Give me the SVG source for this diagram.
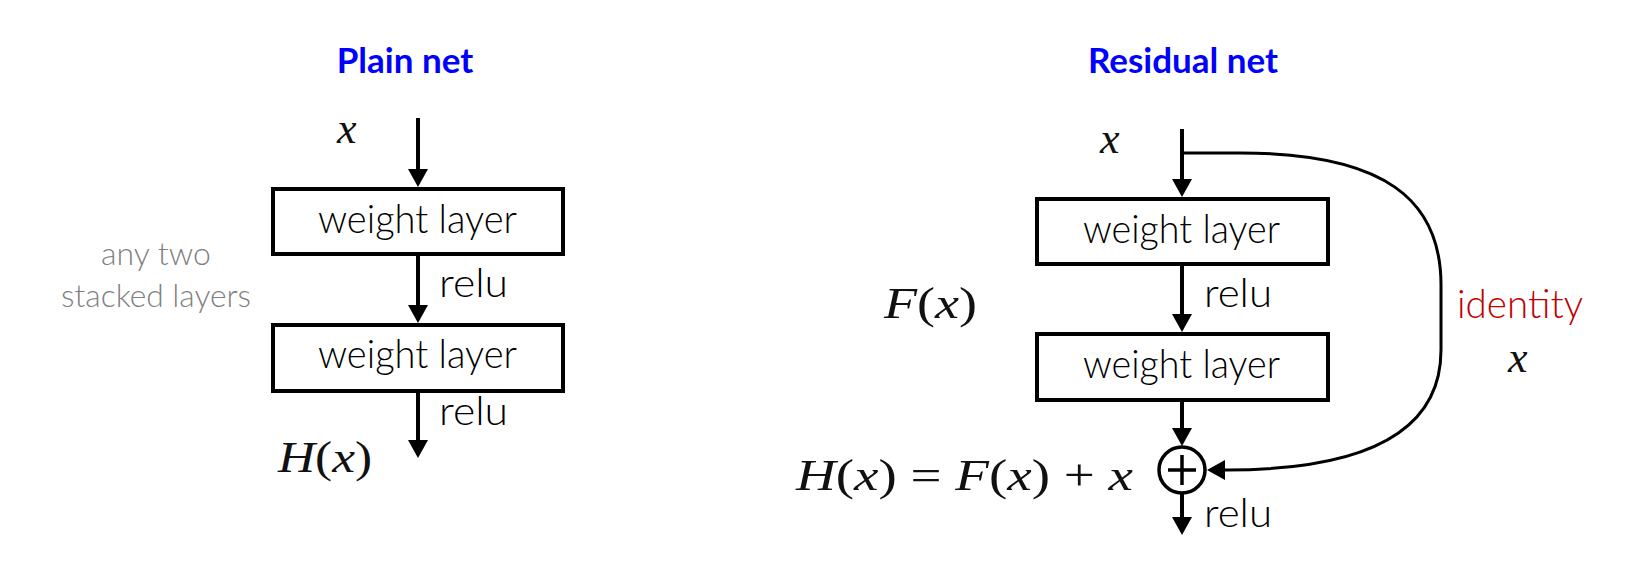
<svg xmlns="http://www.w3.org/2000/svg" width="1628" height="580" viewBox="0 0 1628 580">
<style>
.title{font-family:Lato,"Liberation Sans",sans-serif;font-weight:bold;font-size:35px;fill:#0000FF;text-anchor:middle}
.lbl{font-family:Lato,"Liberation Sans",sans-serif;font-weight:300;font-size:39px;fill:#000}
.gray{font-family:Lato,"Liberation Sans",sans-serif;font-weight:300;font-size:32px;fill:#7f7f7f;text-anchor:middle}
.red{font-family:Lato,"Liberation Sans",sans-serif;font-weight:300;font-size:39px;fill:#C00000}
.math{font-family:"Liberation Serif","Times New Roman",serif;font-size:44px;fill:#111}
.it{font-style:italic}
.box{fill:#fff;stroke:#000;stroke-width:4}
.arr{stroke:#000;stroke-width:4;fill:none;marker-end:url(#ah)}
.skip{stroke:#000;stroke-width:3;fill:none;marker-end:url(#ah)}
</style>
<defs>
<marker id="ah" viewBox="0 0 18 20" refX="12" refY="10" markerWidth="18" markerHeight="20" markerUnits="userSpaceOnUse" orient="auto">
<path d="M0,0 L18,10 L0,20 Z" fill="#000"/>
</marker>
</defs>
<rect width="1628" height="580" fill="#fff"/>

<text class="title" x="405" y="73">Plain net</text>
<text class="title" x="1183" y="73">Residual net</text>

<g id="connectors">
<line class="arr" x1="418" y1="118" x2="418" y2="181"/>
<line class="arr" x1="418" y1="256" x2="418" y2="317"/>
<line class="arr" x1="418" y1="393" x2="418" y2="452"/>
<line class="arr" x1="1182" y1="129" x2="1182" y2="191"/>
<line class="arr" x1="1182" y1="266" x2="1182" y2="326"/>
<line class="arr" x1="1182" y1="401" x2="1182" y2="440"/>
<line class="arr" x1="1182" y1="493" x2="1182" y2="529"/>
<path class="skip" d="M1182,153 H1240 C1385,153 1441,200 1441,285 V350 C1441,430 1370,470 1226,470 L1213,470"/>
</g>

<g id="plain-x"><text class="math it" x="337" y="143">x</text></g>
<g id="plain-w1">
<rect class="box" x="273" y="189" width="290" height="65"/>
<text class="lbl" x="318" y="233" textLength="199" lengthAdjust="spacingAndGlyphs">weight layer</text>
</g>
<g id="plain-relu1"><text class="lbl" x="439" y="297" textLength="69" lengthAdjust="spacingAndGlyphs">relu</text></g>
<g id="plain-w2">
<rect class="box" x="273" y="325" width="290" height="66"/>
<text class="lbl" x="318" y="368" textLength="199" lengthAdjust="spacingAndGlyphs">weight layer</text>
</g>
<g id="plain-relu2"><text class="lbl" x="439" y="425" textLength="69" lengthAdjust="spacingAndGlyphs">relu</text></g>
<g id="plain-H"><text class="math" x="278" y="472" textLength="94" lengthAdjust="spacingAndGlyphs"><tspan class="it">H</tspan>(<tspan class="it">x</tspan>)</text></g>
<g id="note">
<text class="gray" x="156" y="265">any two</text>
<text class="gray" x="156" y="307" textLength="190" lengthAdjust="spacingAndGlyphs">stacked layers</text>
</g>

<g id="res-x"><text class="math it" x="1100" y="153">x</text></g>
<g id="res-w1">
<rect class="box" x="1037" y="199" width="291" height="65"/>
<text class="lbl" x="1083" y="243" textLength="197" lengthAdjust="spacingAndGlyphs">weight layer</text>
</g>
<g id="res-relu1"><text class="lbl" x="1204" y="307" textLength="68" lengthAdjust="spacingAndGlyphs">relu</text></g>
<g id="res-F"><text class="math" x="884" y="318" textLength="93" lengthAdjust="spacingAndGlyphs"><tspan class="it">F</tspan>(<tspan class="it">x</tspan>)</text></g>
<g id="res-w2">
<rect class="box" x="1037" y="334" width="291" height="66"/>
<text class="lbl" x="1083" y="378" textLength="197" lengthAdjust="spacingAndGlyphs">weight layer</text>
</g>
<g id="res-add">
<circle cx="1182" cy="470" r="23" fill="#fff" stroke="#000" stroke-width="3.5"/>
<line x1="1168" y1="470" x2="1196" y2="470" stroke="#000" stroke-width="3.5"/>
<line x1="1182" y1="455" x2="1182" y2="485" stroke="#000" stroke-width="3.5"/>
</g>
<g id="res-eq"><text class="math" x="796" y="490" textLength="337" lengthAdjust="spacingAndGlyphs"><tspan class="it">H</tspan>(<tspan class="it">x</tspan>) = <tspan class="it">F</tspan>(<tspan class="it">x</tspan>) + <tspan class="it">x</tspan></text></g>
<g id="res-relu2"><text class="lbl" x="1204" y="527" textLength="68" lengthAdjust="spacingAndGlyphs">relu</text></g>
<g id="identity">
<text class="red" x="1457" y="318" textLength="126" lengthAdjust="spacingAndGlyphs">identity</text>
<text class="math it" x="1508" y="372">x</text>
</g>
</svg>
